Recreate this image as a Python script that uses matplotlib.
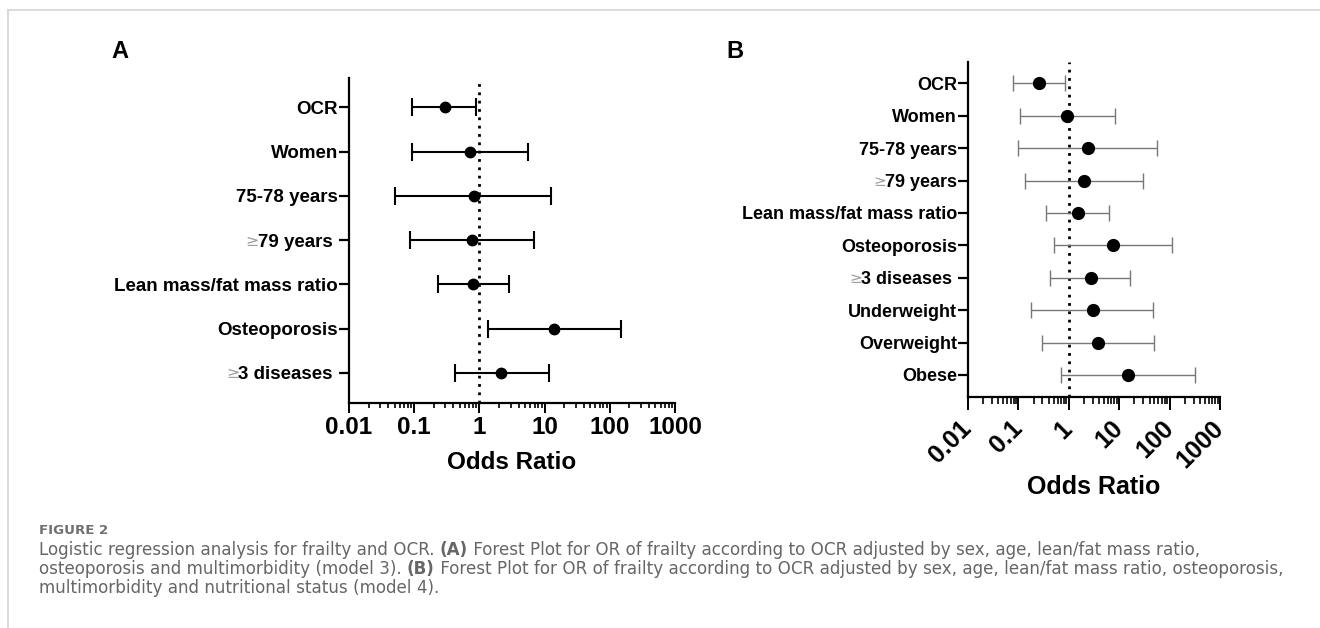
import numpy as np
import matplotlib
matplotlib.use("Agg")
import matplotlib.pyplot as plt
from matplotlib.transforms import IdentityTransform

# panel A (model 3)
labels_a = ["OCR", "Women", "75-78 years", "\u226579 years ", "Lean mass/fat mass ratio",
            "Osteoporosis", "\u22653 diseases "]
or_a = [0.30, 0.73, 0.83, 0.77, 0.81, 14.0, 2.18]
lo_a = [0.092, 0.092, 0.050, 0.085, 0.23, 1.35, 0.42]
hi_a = [0.90, 5.6, 12.5, 6.9, 2.8, 146, 11.5]

# panel B (model 4)
labels_b = ["OCR", "Women", "75-78 years", "\u226579 years", "Lean mass/fat mass ratio",
            "Osteoporosis", "\u22653 diseases ", "Underweight", "Overweight", "Obese"]
or_b = [0.26, 0.92, 2.4, 1.97, 1.53, 7.4, 2.7, 2.97, 3.8, 15.0]
lo_b = [0.079, 0.109, 0.099, 0.138, 0.36, 0.50, 0.42, 0.18, 0.29, 0.70]
hi_b = [0.85, 8.4, 57, 30, 6.3, 111, 16.6, 47, 49, 316]

ticks = [0.01, 0.1, 1, 10, 100, 1000]
tick_labels = ["0.01", "0.1", "1", "10", "100", "1000"]

arial = "Liberation Sans"
W, H = 1320, 628
fig = plt.figure(figsize=(W / 100, H / 100), dpi=100)


def box(l, t, r, b):
    return [l / W, 1 - b / H, (r - l) / W, (b - t) / H]


def forest(ax, labels, orr, lo, hi, ecol, elw, cap, ms, lsize):
    y = np.arange(len(labels))
    err = [np.array(orr) - np.array(lo), np.array(hi) - np.array(orr)]
    ax.errorbar(orr, y, xerr=err, fmt="o", color="black", ecolor=ecol,
                elinewidth=elw, capsize=cap, capthick=elw, markersize=ms, zorder=3)
    ax.axvline(1, color="black", ls=(0, (1, 2)), lw=2, zorder=2)
    ax.set_xscale("log")
    ax.set_xlim(0.01, 1000)
    ax.set_ylim(len(labels) - 1 + 0.68, -0.66)
    ax.set_yticks(y)
    # the "≥" is drawn separately in grey
    ax.set_yticklabels([s.lstrip("\u2265") for s in labels], fontfamily=arial,
                       fontweight="bold", fontsize=lsize)
    ax.set_xticks(ticks)
    for s in ["top", "right"]:
        ax.spines[s].set_visible(False)
    for s in ["left", "bottom"]:
        ax.spines[s].set_linewidth(1.6)
    ax.tick_params(axis="y", length=7, width=1.6, pad=1)
    ax.tick_params(axis="x", which="major", width=1.4, direction="out")
    ax.tick_params(axis="x", which="minor", width=1.2, direction="out")


axA = fig.add_axes(box(349, 78, 675, 403))
forest(axA, labels_a, or_a, lo_a, hi_a, "black", 1.5, 6.5, 7.5, 13.5)
axA.set_xticklabels(tick_labels, fontfamily=arial, fontweight="bold", fontsize=17.5)
axA.tick_params(axis="x", which="major", length=7.5, pad=1.5)
axA.tick_params(axis="x", which="minor", length=3.5)
axA.set_xlabel("Odds Ratio", fontfamily=arial, fontweight="bold", fontsize=17.5, labelpad=9)

axB = fig.add_axes(box(968, 62, 1220, 397))
forest(axB, labels_b, or_b, lo_b, hi_b, "#777777", 1.0, 5.5, 8.5, 13)
axB.set_xticklabels(tick_labels, fontfamily=arial, fontweight="bold", fontsize=18,
                    rotation=45, ha="right", va="center", rotation_mode="anchor")
axB.tick_params(axis="x", which="major", length=9, pad=11)
axB.tick_params(axis="x", which="minor", length=5)
axB.set_xlabel("Odds Ratio", fontfamily=arial, fontweight="bold", fontsize=18, labelpad=2)

fig.text(120 / W, 1 - 52 / H, "A", fontfamily=arial, fontweight="bold", fontsize=17,
         ha="center", va="center")
fig.text(735 / W, 1 - 52 / H, "B", fontfamily=arial, fontweight="bold", fontsize=17,
         ha="center", va="center")

# light frame on left and top
fig.add_artist(plt.Line2D([7.5 / W, 7.5 / W], [0, 1 - 9.5 / H], color="#d4d4d4", lw=1.2))
fig.add_artist(plt.Line2D([7.5 / W, 1], [1 - 9.5 / H, 1 - 9.5 / H], color="#d4d4d4", lw=1.2))

fig.canvas.draw()
renderer = fig.canvas.get_renderer()

# grey "≥" signs in front of the labels
for ax, labels in [(axA, labels_a), (axB, labels_b)]:
    for lbl, full in zip(ax.get_yticklabels(), labels):
        if full.startswith("\u2265"):
            bb = lbl.get_window_extent(renderer)
            fig.text(bb.x0 + 1, bb.y0 + 2, "\u2265", transform=IdentityTransform(),
                     fontfamily="DejaVu Sans", fontsize=lbl.get_fontsize() * 0.85,
                     color="#a0a0a0", ha="right", va="bottom")

# caption
cap_font = "DejaVu Sans"
cap_col = "#666666"
probe = fig.text(0, 0, "Logistic regression analysis for", fontfamily=cap_font, fontsize=10)
cap_size = 10 * 258 / probe.get_window_extent(renderer).width
probe.remove()

fig.text(39 / W, 1 - 531 / H, "FIGURE 2", fontfamily=cap_font, fontweight="bold",
         fontsize=cap_size * 0.8, color="#707070", va="center")
lines = [
    [("Logistic regression analysis for frailty and OCR. ", "normal"), ("(A)", "bold"),
     (" Forest Plot for OR of frailty according to OCR adjusted by sex, age, lean/fat mass ratio,", "normal")],
    [("osteoporosis and multimorbidity (model 3). ", "normal"), ("(B)", "bold"),
     (" Forest Plot for OR of frailty according to OCR adjusted by sex, age, lean/fat mass ratio, osteoporosis,", "normal")],
    [("multimorbidity and nutritional status (model 4).", "normal")],
]
for i, runs in enumerate(lines):
    x = 39.0
    ypix = H - (550 + 19 * i)
    for s, w in runs:
        t = fig.text(x, ypix, s, transform=IdentityTransform(), fontfamily=cap_font,
                     fontweight=w, fontsize=cap_size, color=cap_col, va="center")
        x += t.get_window_extent(renderer).width

fig.savefig("out.png", dpi=100)
